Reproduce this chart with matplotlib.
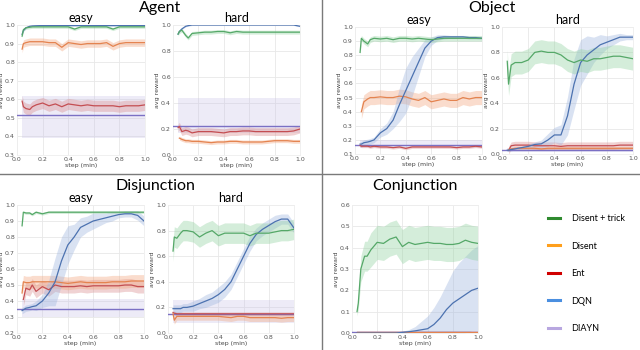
import numpy as np
import matplotlib
matplotlib.use('Agg')
import matplotlib.pyplot as plt
from matplotlib.lines import Line2D

nan = np.nan

# ---------------- data ----------------
STEPS = [0.04, 0.05, 0.07, 0.10, 0.12, 0.15, 0.20, 0.25, 0.30, 0.35, 0.40, 0.45,
         0.50, 0.55, 0.60, 0.65, 0.70, 0.75, 0.80, 0.85, 0.90, 0.95, 1.00]
METHODS = ['Disent + trick', 'Disent', 'Ent', 'DQN', 'DIAYN']

# Agent / easy
AE_TRICK = [0.94, 0.975, 0.985, 0.988, 0.99, 0.99, 0.99, 0.99, 0.99, 0.99, 0.99, 0.978, 0.99, 0.99, 0.99, 0.99, 0.99, 0.978, 0.99, 0.99, 0.99, 0.99, 0.99]
AE_DISENT = [0.87, 0.90, 0.905, 0.91, 0.91, 0.91, 0.91, 0.905, 0.905, 0.88, 0.905, 0.90, 0.895, 0.90, 0.90, 0.90, 0.905, 0.885, 0.90, 0.905, 0.905, 0.905, 0.905]
AE_ENT = [0.59, 0.56, 0.55, 0.545, 0.56, 0.57, 0.58, 0.565, 0.575, 0.56, 0.575, 0.57, 0.565, 0.57, 0.565, 0.565, 0.565, 0.565, 0.56, 0.565, 0.565, 0.565, 0.57]
AE_DQN = [0.95, 0.97, 0.985, 0.993, 0.995, 0.996, 0.997, 0.997, 0.997, 0.997, 0.997, 0.997, 0.997, 0.997, 0.997, 0.997, 0.997, 0.997, 0.997, 0.997, 0.997, 0.997, 0.997]
AE_DIAYN = 0.513
AE_DIAYN_BAND = (0.39, 0.62)

# Agent / hard
AH_TRICK = [0.93, 0.95, 0.96, 0.92, 0.90, 0.935, 0.94, 0.945, 0.945, 0.95, 0.95, 0.94, 0.95, 0.945, 0.945, 0.945, 0.945, 0.945, 0.945, 0.945, 0.945, 0.945, 0.945]
AH_DISENT = [nan, 0.13, 0.12, 0.11, 0.11, 0.105, 0.105, 0.10, 0.095, 0.10, 0.10, 0.105, 0.105, 0.10, 0.10, 0.10, 0.10, 0.105, 0.11, 0.11, 0.11, 0.105, 0.105]
AH_ENT = [0.21, 0.22, 0.18, 0.19, 0.185, 0.17, 0.18, 0.18, 0.18, 0.175, 0.17, 0.18, 0.18, 0.185, 0.185, 0.18, 0.18, 0.18, 0.18, 0.18, 0.18, 0.185, 0.20]
AH_DQN = [0.93, 0.95, 0.97, 0.99, 0.995, 1.0, 1.0, 1.0, 1.0, 1.0, 1.0, 1.0, 1.0, 1.0, 1.0, 1.0, 1.0, 1.0, 1.0, 1.0, 1.0, 1.0, 0.99]
AH_DIAYN = 0.225
AH_DIAYN_BAND = (0.17, 0.44)

# Object / easy
OE_TRICK = [0.82, 0.92, 0.90, 0.88, 0.91, 0.92, 0.915, 0.92, 0.91, 0.92, 0.92, 0.915, 0.92, 0.915, 0.91, 0.915, 0.92, 0.92, 0.92, 0.92, 0.92, 0.92, 0.92]
OE_DISENT = [nan, 0.40, 0.47, 0.49, 0.50, 0.50, 0.505, 0.50, 0.50, 0.51, 0.505, 0.49, 0.48, 0.50, 0.47, 0.48, 0.49, 0.48, 0.48, 0.50, 0.49, 0.50, 0.50]
OE_ENT = [0.16, 0.155, 0.155, 0.155, 0.15, 0.155, 0.15, 0.15, 0.145, 0.15, 0.14, 0.15, 0.15, 0.15, 0.15, 0.15, 0.15, 0.15, 0.145, 0.15, 0.15, 0.155, 0.15]
OE_DQN = [0.17, 0.17, 0.18, 0.185, 0.19, 0.20, 0.25, 0.28, 0.34, 0.45, 0.55, 0.65, 0.75, 0.85, 0.90, 0.925, 0.93, 0.93, 0.93, 0.93, 0.925, 0.925, 0.92]
OE_DQN_SPREAD = [0.02, 0.02, 0.02, 0.02, 0.02, 0.02, 0.03, 0.04, 0.06, 0.12, 0.16, 0.14, 0.10, 0.06, 0.03, 0.02, 0.015, 0.01, 0.01, 0.01, 0.01, 0.01, 0.01]
OE_DIAYN = 0.165
OE_DIAYN_BAND = (0.145, 0.20)

# Object / hard
OH_TRICK = [0.73, 0.55, 0.70, 0.72, 0.72, 0.72, 0.74, 0.80, 0.81, 0.80, 0.80, 0.78, 0.74, 0.72, 0.74, 0.73, 0.75, 0.75, 0.76, 0.77, 0.77, 0.76, 0.75]
OH_DISENT = [nan, 0.035, 0.04, 0.045, 0.045, 0.045, 0.045, 0.045, 0.04, 0.045, 0.045, 0.045, 0.045, 0.045, 0.045, 0.045, 0.045, 0.045, 0.045, 0.045, 0.045, 0.045, 0.045]
OH_ENT = [nan, 0.03, 0.065, 0.07, 0.07, 0.07, 0.07, 0.065, 0.065, 0.065, 0.065, 0.06, 0.065, 0.065, 0.065, 0.065, 0.065, 0.065, 0.065, 0.065, 0.07, 0.07, 0.07]
OH_DQN = [0.03, 0.03, 0.035, 0.04, 0.045, 0.05, 0.06, 0.075, 0.08, 0.11, 0.15, 0.15, 0.30, 0.55, 0.72, 0.78, 0.82, 0.86, 0.88, 0.90, 0.92, 0.92, 0.92]
OH_DQN_SPREAD = [0.01, 0.01, 0.01, 0.01, 0.01, 0.01, 0.02, 0.02, 0.03, 0.05, 0.06, 0.08, 0.15, 0.20, 0.18, 0.15, 0.10, 0.08, 0.05, 0.04, 0.03, 0.02, 0.02]
OH_DIAYN = 0.03
OH_DIAYN_BAND = (0.015, 0.05)

# Disjunction / easy
DE_TRICK = [0.87, 0.955, 0.95, 0.95, 0.94, 0.955, 0.945, 0.955, 0.955, 0.955, 0.955, 0.955, 0.955, 0.955, 0.955, 0.955, 0.955, 0.955, 0.955, 0.955, 0.955, 0.955, 0.955]
DE_DISENT = [0.45, 0.52, 0.515, 0.515, 0.52, 0.52, 0.52, 0.52, 0.52, 0.515, 0.51, 0.515, 0.52, 0.515, 0.515, 0.515, 0.515, 0.52, 0.52, 0.52, 0.525, 0.525, 0.525]
DE_ENT = [nan, 0.41, 0.48, 0.47, 0.50, 0.46, 0.49, 0.47, 0.50, 0.49, 0.49, 0.49, 0.495, 0.49, 0.495, 0.495, 0.495, 0.495, 0.495, 0.50, 0.50, 0.49, 0.49]
DE_DQN = [0.34, 0.345, 0.355, 0.36, 0.365, 0.37, 0.40, 0.45, 0.52, 0.65, 0.75, 0.80, 0.86, 0.88, 0.90, 0.91, 0.92, 0.93, 0.94, 0.945, 0.945, 0.935, 0.90]
DE_DQN_SPREAD = [0.02, 0.02, 0.02, 0.02, 0.02, 0.03, 0.04, 0.08, 0.15, 0.15, 0.12, 0.08, 0.06, 0.05, 0.05, 0.04, 0.03, 0.03, 0.02, 0.02, 0.02, 0.03, 0.03]
DE_DIAYN = 0.35
DE_DIAYN_BAND = (0.30, 0.41)

# Disjunction / hard
DH_TRICK = [0.64, 0.75, 0.74, 0.78, 0.80, 0.80, 0.79, 0.75, 0.78, 0.80, 0.76, 0.78, 0.78, 0.78, 0.78, 0.76, 0.78, 0.78, 0.78, 0.79, 0.80, 0.80, 0.81]
DH_DISENT = [0.15, 0.10, 0.13, 0.13, 0.13, 0.13, 0.13, 0.13, 0.13, 0.13, 0.13, 0.125, 0.12, 0.13, 0.13, 0.12, 0.12, 0.12, 0.12, 0.12, 0.115, 0.12, 0.12]
DH_ENT = [0.16, 0.155, 0.15, 0.15, 0.15, 0.15, 0.15, 0.15, 0.15, 0.15, 0.15, 0.15, 0.15, 0.15, 0.15, 0.15, 0.15, 0.15, 0.15, 0.15, 0.15, 0.15, 0.15]
DH_DQN = [0.19, 0.19, 0.19, 0.19, 0.20, 0.20, 0.21, 0.23, 0.25, 0.27, 0.30, 0.34, 0.40, 0.50, 0.60, 0.70, 0.77, 0.81, 0.84, 0.87, 0.89, 0.89, 0.82]
DH_DQN_SPREAD = [0.03, 0.03, 0.03, 0.03, 0.03, 0.03, 0.04, 0.04, 0.05, 0.05, 0.06, 0.06, 0.06, 0.06, 0.06, 0.06, 0.05, 0.05, 0.05, 0.05, 0.04, 0.04, 0.04]
DH_DIAYN = 0.15
DH_DIAYN_BAND = (0.08, 0.26)

# Conjunction
CJ_TRICK = [0.10, 0.14, 0.30, 0.36, 0.36, 0.39, 0.425, 0.42, 0.44, 0.45, 0.405, 0.425, 0.415, 0.42, 0.425, 0.42, 0.42, 0.415, 0.415, 0.42, 0.435, 0.425, 0.42]
CJ_TRICK_SPREAD = [0.02, 0.03, 0.06, 0.07, 0.07, 0.08, 0.08, 0.08, 0.08, 0.08, 0.08, 0.08, 0.08, 0.08, 0.08, 0.08, 0.08, 0.08, 0.08, 0.08, 0.08, 0.08, 0.08]
CJ_DISENT = [0.003] * 23
CJ_ENT = [0.003] * 23
CJ_DQN = [0.0, 0.0, 0.0, 0.0, 0.0, 0.0, 0.0, 0.0, 0.0, 0.0, 0.003, 0.006, 0.01, 0.015, 0.02, 0.04, 0.07, 0.11, 0.14, 0.16, 0.18, 0.20, 0.21]
CJ_DQN_SPREAD = [0.0, 0.0, 0.0, 0.0, 0.0, 0.0, 0.0, 0.0, 0.0, 0.0, 0.005, 0.01, 0.02, 0.04, 0.06, 0.08, 0.10, 0.12, 0.15, 0.17, 0.18, 0.19, 0.20]
CJ_DIAYN = 0.005
CJ_DIAYN_BAND = (0.0, 0.01)

# ---------------- style ----------------
LINE_COLORS = {'Disent + trick': '#55a868', 'Disent': '#e4834f', 'Ent': '#c44e52',
               'DQN': '#4c72b0', 'DIAYN': '#7b70c4'}
BAND_COLORS = {'Disent + trick': '#8fd19e', 'Disent': '#f2a57c', 'Ent': '#d98a8c',
               'DQN': '#9db4de', 'DIAYN': '#c6bde6'}
LEGEND_COLORS = {'Disent + trick': '#2f8a2f', 'Disent': '#ff9f1c', 'Ent': '#d00000',
                 'DQN': '#4a8fe0', 'DIAYN': '#b8a7e0'}

W, H = 640, 350
fig = plt.figure(figsize=(6.4, 3.5), dpi=100)

def box(l, r, top, bot):
    return [l / W, 1 - bot / H, (r - l) / W, (bot - top) / H]

panels = [
    dict(pos=box(17, 145, 25, 155), ylim=(0.3, 1.0), yt=np.arange(0.3, 1.01, 0.1), title='easy',
         trick=(AE_TRICK, 0.008), disent=(AE_DISENT, 0.02), ent=(AE_ENT, 0.03), dqn=(AE_DQN, 0.004),
         diayn=AE_DIAYN, band=AE_DIAYN_BAND),
    dict(pos=box(173, 300, 25, 155), ylim=(0.0, 1.0), yt=np.arange(0, 1.01, 0.2), title='hard',
         trick=(AH_TRICK, 0.015), disent=(AH_DISENT, 0.015), ent=(AH_ENT, 0.03), dqn=(AH_DQN, 0.004),
         diayn=AH_DIAYN, band=AH_DIAYN_BAND),
    dict(pos=box(355, 482, 27, 154), ylim=(0.1, 1.0), yt=np.arange(0.1, 1.01, 0.1), title='easy',
         trick=(OE_TRICK, 0.02), disent=(OE_DISENT, 0.05), ent=(OE_ENT, 0.01), dqn=(OE_DQN, OE_DQN_SPREAD),
         diayn=OE_DIAYN, band=OE_DIAYN_BAND),
    dict(pos=box(502, 633, 27, 154), ylim=(0.0, 1.0), yt=np.arange(0, 1.01, 0.2), title='hard',
         trick=(OH_TRICK, 0.09), disent=(OH_DISENT, 0.01), ent=(OH_ENT, 0.03), dqn=(OH_DQN, OH_DQN_SPREAD),
         diayn=OH_DIAYN, band=OH_DIAYN_BAND),
    dict(pos=box(17, 144, 205, 333), ylim=(0.2, 1.0), yt=np.arange(0.2, 1.01, 0.1), title='easy',
         trick=(DE_TRICK, 0.008), disent=(DE_DISENT, 0.04), ent=(DE_ENT, 0.04), dqn=(DE_DQN, DE_DQN_SPREAD),
         diayn=DE_DIAYN, band=DE_DIAYN_BAND),
    dict(pos=box(168, 294, 205, 333), ylim=(0.0, 1.0), yt=np.arange(0, 1.01, 0.2), title='hard',
         trick=(DH_TRICK, 0.08), disent=(DH_DISENT, 0.03), ent=(DH_ENT, 0.015), dqn=(DH_DQN, DH_DQN_SPREAD),
         diayn=DH_DIAYN, band=DH_DIAYN_BAND),
    dict(pos=box(352, 478, 205, 333), ylim=(0.0, 0.6), yt=np.arange(0, 0.61, 0.1), title=None,
         trick=(CJ_TRICK, CJ_TRICK_SPREAD), disent=(CJ_DISENT, 0.002), ent=(CJ_ENT, 0.002), dqn=(CJ_DQN, CJ_DQN_SPREAD),
         diayn=CJ_DIAYN, band=CJ_DIAYN_BAND),
]

x = np.array(STEPS)
for p in panels:
    ax = fig.add_axes(p['pos'])
    ax.set_xlim(0, 1)
    ax.set_ylim(*p['ylim'])
    ax.set_xticks(np.arange(0, 1.01, 0.2))
    ax.set_yticks(p['yt'])
    ax.set_xticklabels([f'{v:.1f}' for v in np.arange(0, 1.01, 0.2)])
    ax.set_yticklabels([f'{v:.1f}' for v in p['yt']])
    ax.tick_params(labelsize=4.5, length=0, pad=1.5, colors='#555555')
    ax.grid(True, color='#e8e8e8', lw=0.6)
    ax.set_axisbelow(True)
    for s in ax.spines.values():
        s.set_color('#eeeeee')
        s.set_linewidth(0.6)
    ax.set_xlabel('step (min)', fontsize=4.5, labelpad=1, color='#444444')
    ax.set_ylabel('avg reward', fontsize=4.5, labelpad=1, color='#444444')
    if p['title']:
        ax.set_title(p['title'], fontsize=9, pad=2, family='Lato')

    # DIAYN
    lo, hi = p['band']
    ax.fill_between(x, [lo] * len(x), [hi] * len(x), color=BAND_COLORS['DIAYN'], alpha=0.3, lw=0)
    ax.plot([0, 1], [p['diayn'], p['diayn']], color=LINE_COLORS['DIAYN'], lw=1.0, zorder=5)

    for key, name in [('ent', 'Ent'), ('disent', 'Disent'), ('dqn', 'DQN'), ('trick', 'Disent + trick')]:
        vals, spread = p[key]
        v = np.array(vals, dtype=float)
        sp = np.array(spread, dtype=float) if np.ndim(spread) else np.full(len(v), spread)
        ax.fill_between(x, v - sp, v + sp, color=BAND_COLORS[name], alpha=0.38, lw=0)
        ax.plot(x, v, color=LINE_COLORS[name], lw=0.9, zorder=6)

# group titles
for txt, cx, cy in [('Agent', 160, 8), ('Object', 492, 8), ('Disjunction', 155, 186), ('Conjunction', 415, 186)]:
    fig.text(cx / W, 1 - cy / H, txt, ha='center', va='center', fontsize=11.5, family='Lato')

# dividers
fig.add_artist(Line2D([322 / W, 322 / W], [0, 1], transform=fig.transFigure, color='#7a7a7a', lw=1.0))
fig.add_artist(Line2D([0, 1], [1 - 174 / H, 1 - 174 / H], transform=fig.transFigure, color='#7a7a7a', lw=1.0))

# legend
handles = [Line2D([], [], color=LEGEND_COLORS[m], lw=2.2) for m in METHODS]
fig.legend(handles, METHODS, loc='upper left', bbox_to_anchor=(540 / W, 1 - 206 / H),
           frameon=False, handlelength=1.3, handletextpad=1.3, labelspacing=2.05,
           prop={'family': 'Lato', 'size': 6.5})

fig.savefig('out.png', dpi=100)
